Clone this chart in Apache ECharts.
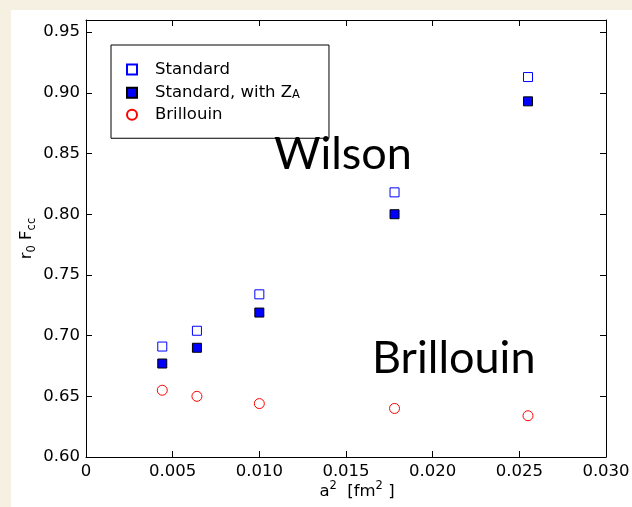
<!DOCTYPE html>
<html>
<head>
<meta charset="utf-8">
<script src="https://cdn.jsdelivr.net/npm/echarts@6/dist/echarts.min.js"></script>
<style>
  html, body { margin: 0; padding: 0; background: #f5f0e2; }
  #chart { width: 632px; height: 507px; }
</style>
</head>
<body>
<div id="chart"></div>
<script>
// Lattice spacing squared a^2 [fm^2]
const a2 = [0.0044, 0.0064, 0.0100, 0.0178, 0.0255];
// r0 F_cc for each action / normalisation
const standard = [0.691, 0.704, 0.734, 0.818, 0.913];
const standardZA = [0.677, 0.690, 0.719, 0.800, 0.893];
const brillouin = [0.655, 0.650, 0.644, 0.640, 0.634];

const xTickLabels = ['0', '0.005', '0.010', '0.015', '0.020', '0.025', '0.030'];
const yTickLabels = ['0.60', '0.65', '0.70', '0.75', '0.80', '0.85', '0.90', '0.95'];

const FONT = 'DejaVu Sans';
const FS = 16.5;

function pairs(xs, ys) { return xs.map((x, i) => [x, ys[i]]); }

function xLabel(v) {
  const k = Math.round(v / 0.005);
  return Math.abs(v - k * 0.005) < 1e-9 && xTickLabels[k] !== undefined ? xTickLabels[k] : '';
}
function yLabel(v) {
  const k = Math.round((v - 0.6) / 0.05);
  return Math.abs(v - 0.6 - k * 0.05) < 1e-9 && yTickLabels[k] !== undefined ? yTickLabels[k] : '';
}

function axisLine() { return { show: true, onZero: false, lineStyle: { color: '#000', width: 1 } }; }
function tick() { return { show: true, inside: true, length: 6, lineStyle: { color: '#000', width: 1 } }; }

const chart = echarts.init(document.getElementById('chart'), null, { renderer: 'canvas' });
chart.setOption({
  animation: false,
  backgroundColor: '#f5f0e2',
  textStyle: { fontFamily: FONT },
  graphic: [
    { type: 'rect', z: -10, shape: { x: 11, y: 10, width: 632, height: 507 }, style: { fill: '#ffffff' } },
    { type: 'text', z: 5, left: 274, top: 132, style: { text: 'Wilson', font: '45px Lato', fill: '#000' } },
    { type: 'text', z: 5, left: 372, top: 336, style: { text: 'Brillouin', font: '45px Lato', fill: '#000' } }
  ],
  grid: { left: 86, top: 20, right: 26, bottom: 50, containLabel: false, outerBoundsMode: 'none', show: false },
  legend: {
    orient: 'vertical',
    left: 111,
    top: 45,
    padding: [16, 29, 15, 15],
    itemGap: 5,
    itemWidth: 36,
    itemHeight: 10,
    backgroundColor: '#ffffff',
    borderColor: '#000',
    borderWidth: 1,
    borderRadius: 0,
    symbolKeepAspect: true,
    selectedMode: false,
    textStyle: {
      fontFamily: FONT, fontSize: FS, color: '#000', lineHeight: 16.5,
      rich: {
        n: { fontFamily: FONT, fontSize: FS, color: '#000', lineHeight: 16.5 },
        s: { fontFamily: FONT, fontSize: 11.5, color: '#000', lineHeight: 16.5, verticalAlign: 'bottom', padding: [6, 0, 0, 0] }
      }
    },
    formatter: function (name) {
      return name === 'Standard, with ZA' ? '{n|Standard, with Z}{s|A}' : name;
    },
    data: [
      { name: 'Standard', icon: 'path://M0,0H9V9H0Z' },
      { name: 'Standard, with ZA', icon: 'path://M0,0H9V9H0Z' },
      { name: 'Brillouin', icon: 'circle' }
    ]
  },
  xAxis: [
    {
      type: 'value', min: 0, max: 0.03, interval: 0.005, position: 'bottom',
      name: '{t|a}{p|2}{t|  [fm}{p|2}{t| ]}',
      nameLocation: 'middle', nameGap: 23, nameMoveOverlap: false,
      nameTextStyle: {
        color: '#000', padding: [0, 0, 0, 22],
        rich: {
          t: { fontFamily: FONT, fontSize: FS, color: '#000', lineHeight: 20, verticalAlign: 'bottom' },
          p: { fontFamily: FONT, fontSize: 11.5, color: '#000', lineHeight: 20, verticalAlign: 'top' }
        }
      },
      axisLine: axisLine(), axisTick: tick(), splitLine: { show: false },
      axisLabel: { show: true, margin: 6, color: '#000', fontFamily: FONT, fontSize: FS, formatter: xLabel, showMinLabel: true, showMaxLabel: true, hideOverlap: false }
    },
    {
      type: 'value', min: 0, max: 0.03, interval: 0.005, position: 'top',
      axisLine: axisLine(), axisTick: tick(), splitLine: { show: false }, axisLabel: { show: false }
    }
  ],
  yAxis: [
    {
      type: 'value', min: 0.6, max: 0.96, interval: 0.05, position: 'left',
      name: '{t|r}{s|0}{t| F}{s|cc}',
      nameLocation: 'middle', nameGap: 48, nameRotate: 90, nameMoveOverlap: false,
      nameTextStyle: {
        color: '#000',
        rich: {
          t: { fontFamily: FONT, fontSize: FS, color: '#000', lineHeight: 20, verticalAlign: 'top' },
          s: { fontFamily: FONT, fontSize: 11.5, color: '#000', lineHeight: 20, verticalAlign: 'bottom' }
        }
      },
      axisLine: axisLine(), axisTick: tick(), splitLine: { show: false },
      axisLabel: { show: true, margin: 6, color: '#000', fontFamily: FONT, fontSize: FS, formatter: yLabel, showMaxLabel: false, hideOverlap: false }
    },
    {
      type: 'value', min: 0.6, max: 0.96, interval: 0.05, position: 'right',
      axisLine: axisLine(), axisTick: tick(), splitLine: { show: false }, axisLabel: { show: false }
    }
  ],
  series: [
    {
      name: 'Standard', type: 'scatter', symbol: 'rect', symbolSize: 9,
      itemStyle: { color: '#ffffff', borderColor: '#0000ff', borderWidth: 1, opacity: 1 },
      data: pairs(a2, standard), z: 3
    },
    {
      name: 'Standard, with ZA', type: 'scatter', symbol: 'rect', symbolSize: 9,
      itemStyle: { color: '#0000ff', borderColor: '#000000', borderWidth: 1, opacity: 1 },
      data: pairs(a2, standardZA), z: 3
    },
    {
      name: 'Brillouin', type: 'scatter', symbol: 'circle', symbolSize: 10,
      itemStyle: { color: '#ffffff', borderColor: '#ff0000', borderWidth: 1, opacity: 1 },
      data: pairs(a2, brillouin), z: 3
    },
    {
      // binds the mirrored frame axes (top / right) to the grid
      type: 'scatter', xAxisIndex: 1, yAxisIndex: 1, data: [], silent: true
    }
  ]
});
</script>
</body>
</html>
